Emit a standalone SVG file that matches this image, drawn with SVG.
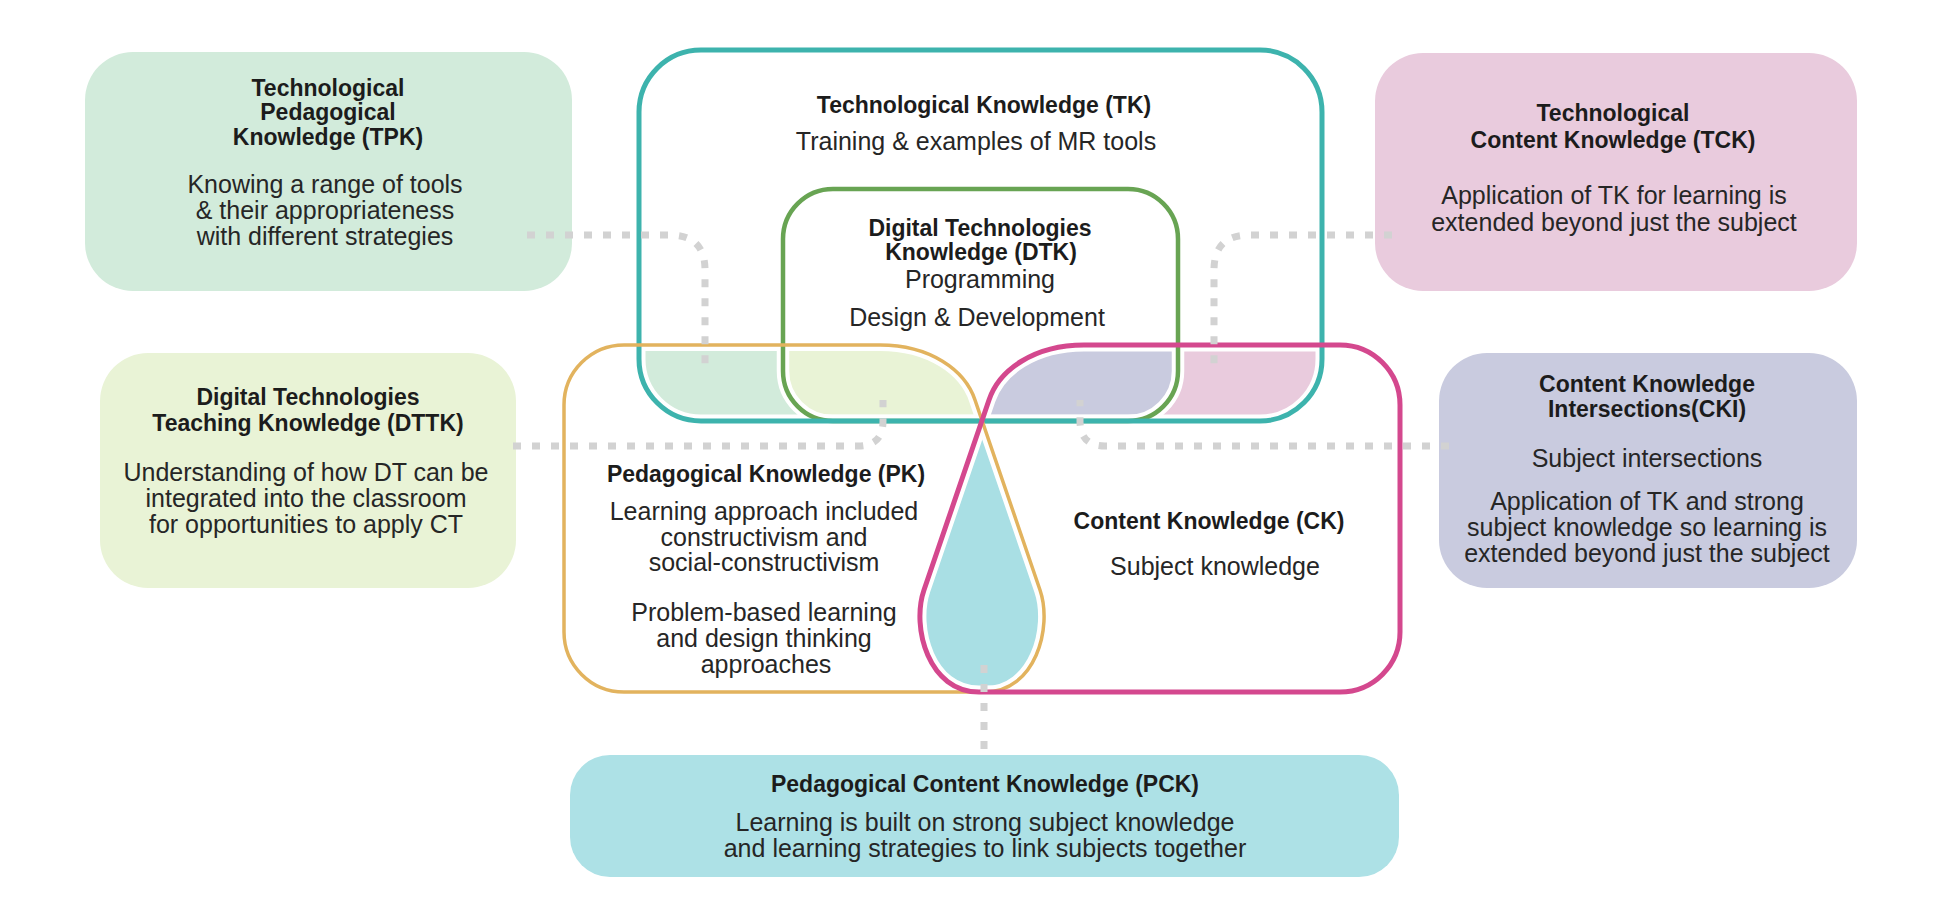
<svg xmlns="http://www.w3.org/2000/svg" width="1951" height="902" viewBox="0 0 1951 902">
<style>
.h{font-family:"Liberation Sans",Arial,sans-serif;font-weight:bold;font-size:23px;fill:#1c1c1c;text-anchor:middle}
.r{font-family:"Liberation Sans",Arial,sans-serif;font-size:25px;fill:#262626;text-anchor:middle}
.halo{fill:none;stroke:#ffffff}
.conn{fill:none;stroke:#d2d2d2;stroke-width:7;stroke-dasharray:8 11}
</style>
<defs>
<clipPath id="cTK"><rect x="639" y="50" width="683" height="371" rx="62"/></clipPath>
<clipPath id="cDTK"><rect x="783" y="189" width="395" height="232" rx="50"/></clipPath>
<clipPath id="cPK"><path d="M624,345 H880 C930,345 965,370 975,400 L1040,590 C1053,628 1035,692 985,692 H624 A60,60 0 0 1 564,632 V405 A60,60 0 0 1 624,345 Z"/></clipPath>
<clipPath id="cCK"><path d="M1340,345 H1084 C1034,345 999,370 989,400 L924,590 C911,628 929,692 979,692 H1340 A60,60 0 0 0 1400,632 V405 A60,60 0 0 0 1340,345 Z"/></clipPath>
</defs>
<rect x="0" y="0" width="1951" height="902" fill="#ffffff"/>

<g id="TPK">
<rect x="85" y="52" width="487" height="239" rx="48" fill="#d2ebdb"/>
<text class="h" x="328" y="96">Technological</text>
<text class="h" x="328" y="120">Pedagogical</text>
<text class="h" x="328" y="145">Knowledge (TPK)</text>
<text class="r" x="325" y="193">Knowing a range of tools</text>
<text class="r" x="325" y="219">&amp; their appropriateness</text>
<text class="r" x="325" y="245">with different strategies</text>
</g>

<g id="DTTK">
<rect x="100" y="353" width="416" height="235" rx="48" fill="#e9f3d6"/>
<text class="h" x="308" y="405">Digital Technologies</text>
<text class="h" x="308" y="431">Teaching Knowledge (DTTK)</text>
<text class="r" x="306" y="481">Understanding of how DT can be</text>
<text class="r" x="306" y="507">integrated into the classroom</text>
<text class="r" x="306" y="533">for opportunities to apply CT</text>
</g>

<g id="TCK">
<rect x="1375" y="53" width="482" height="238" rx="48" fill="#e9cbdd"/>
<text class="h" x="1613" y="121">Technological</text>
<text class="h" x="1613" y="148">Content Knowledge (TCK)</text>
<text class="r" x="1614" y="204">Application of TK for learning is</text>
<text class="r" x="1614" y="231">extended beyond just the subject</text>
</g>

<g id="CKI">
<rect x="1439" y="353" width="418" height="235" rx="48" fill="#c9cbdf"/>
<text class="h" x="1647" y="392">Content Knowledge</text>
<text class="h" x="1647" y="417">Intersections(CKI)</text>
<text class="r" x="1647" y="467">Subject intersections</text>
<text class="r" x="1647" y="510">Application of TK and strong</text>
<text class="r" x="1647" y="536">subject knowledge so learning is</text>
<text class="r" x="1647" y="562">extended beyond just the subject</text>
</g>

<g id="PCK">
<rect x="570" y="755" width="829" height="122" rx="40" fill="#ade1e6"/>
<text class="h" x="985" y="792">Pedagogical Content Knowledge (PCK)</text>
<text class="r" x="985" y="831">Learning is built on strong subject knowledge</text>
<text class="r" x="985" y="857">and learning strategies to link subjects together</text>
</g>

<g id="overlap-fills">
<g clip-path="url(#cTK)">
<g clip-path="url(#cPK)">
<rect x="560" y="330" width="860" height="100" fill="#d2ebdb"/>
<rect x="560" y="330" width="860" height="100" fill="#e9f3d6" clip-path="url(#cDTK)"/>
</g>
<g clip-path="url(#cCK)">
<rect x="560" y="330" width="860" height="100" fill="#e9cbdd"/>
<rect x="560" y="330" width="860" height="100" fill="#c9cbdf" clip-path="url(#cDTK)"/>
</g>
</g>
<g clip-path="url(#cPK)">
<path d="M1340,345 H1084 C1034,345 999,370 989,400 L924,590 C911,628 929,692 979,692 H1340 A60,60 0 0 0 1400,632 V405 A60,60 0 0 0 1340,345 Z" fill="#a9dfe4"/>
</g>
</g>

<g id="halos">
<rect class="halo" x="783" y="189" width="395" height="232" rx="50" stroke-width="12.5"/>
<rect class="halo" x="639" y="50" width="683" height="371" rx="62" stroke-width="13"/>
<path class="halo" stroke-width="12" d="M624,345 H880 C930,345 965,370 975,400 L1040,590 C1053,628 1035,692 985,692 H624 A60,60 0 0 1 564,632 V405 A60,60 0 0 1 624,345 Z"/>
<path class="halo" stroke-width="13" d="M1340,345 H1084 C1034,345 999,370 989,400 L924,590 C911,628 929,692 979,692 H1340 A60,60 0 0 0 1400,632 V405 A60,60 0 0 0 1340,345 Z"/>
</g>

<g id="DTK">
<rect x="783" y="189" width="395" height="232" rx="50" fill="none" stroke="#68a453" stroke-width="4.5"/>
<text class="h" x="980" y="236">Digital Technologies</text>
<text class="h" x="981" y="260">Knowledge (DTK)</text>
<text class="r" x="980" y="288">Programming</text>
<text class="r" x="977" y="326">Design &amp; Development</text>
</g>

<g id="TK">
<rect x="639" y="50" width="683" height="371" rx="62" fill="none" stroke="#3db3ad" stroke-width="5"/>
<text class="h" x="984" y="113">Technological Knowledge (TK)</text>
<text class="r" x="976" y="150">Training &amp; examples of MR tools</text>
</g>

<g id="PK">
<path d="M624,345 H880 C930,345 965,370 975,400 L1040,590 C1053,628 1035,692 985,692 H624 A60,60 0 0 1 564,632 V405 A60,60 0 0 1 624,345 Z" fill="none" stroke="#e2b35e" stroke-width="3.5"/>
<text class="h" x="766" y="482">Pedagogical Knowledge (PK)</text>
<text class="r" x="764" y="520">Learning approach included</text>
<text class="r" x="764" y="546">constructivism and</text>
<text class="r" x="764" y="571">social-constructivism</text>
<text class="r" x="764" y="621">Problem-based learning</text>
<text class="r" x="764" y="647">and design thinking</text>
<text class="r" x="766" y="673">approaches</text>
</g>

<g id="CK">
<path d="M1340,345 H1084 C1034,345 999,370 989,400 L924,590 C911,628 929,692 979,692 H1340 A60,60 0 0 0 1400,632 V405 A60,60 0 0 0 1340,345 Z" fill="none" stroke="#d4488e" stroke-width="5"/>
<text class="h" x="1209" y="529">Content Knowledge (CK)</text>
<text class="r" x="1215" y="575">Subject knowledge</text>
</g>

<g id="connectors">
<path class="conn" d="M527,235 H670 Q705,235 705,270 V373"/>
<path class="conn" d="M1392,235 H1249 Q1214,235 1214,270 V370"/>
<path class="conn" d="M513,446 H858 Q883,446 883,421 V400"/>
<path class="conn" d="M1449,446 H1105 Q1080,446 1080,421 V400"/>
<path class="conn" d="M984,665 V757"/>
</g>
</svg>
